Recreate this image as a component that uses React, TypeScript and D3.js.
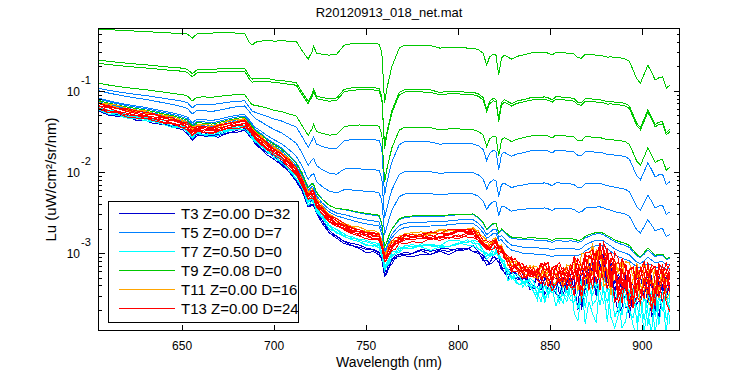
import React from "react";
import * as d3 from "d3";

// ---------- data ----------
// wavelength grid (nm)
const wavelengths = [
  605, 610, 615, 620, 625, 630, 635, 640, 645, 650,
  653, 655.5, 658, 662, 666, 670, 675, 680, 684, 686.5,
  688, 690, 693, 696, 700, 704, 708, 712, 715, 718.5,
  720.5, 721.5, 723, 726, 730, 734, 738, 742, 746, 750,
  754, 757, 758.5, 760, 761, 762.5, 764, 766, 768, 771,
  775, 780, 785, 790, 795, 800, 805, 808, 811, 813.5,
  815.5, 817, 819, 820.5, 822, 823.5, 825, 827, 829, 831,
  833, 835, 837, 839, 841, 843, 845, 847, 849, 851,
  853, 855, 857, 859, 861, 863, 865, 867, 869, 871,
  873, 875, 877, 879, 881, 883, 885, 887, 889, 891,
  893, 895, 897, 899, 901, 903, 905, 907, 909, 911, 913, 915,
];

// top (sky-glint dominated) green trace, uW/cm2/sr/nm
const skyLu = [
  0.575, 0.567, 0.559, 0.552, 0.544, 0.537, 0.529, 0.522, 0.514, 0.514,
  0.5, 0.446, 0.5, 0.514, 0.514, 0.521, 0.521, 0.514, 0.507, 0.398,
  0.365, 0.398, 0.409, 0.421, 0.409, 0.415, 0.409, 0.409, 0.317, 0.246,
  0.3, 0.355, 0.291, 0.283, 0.275, 0.283, 0.365, 0.381, 0.387, 0.387,
  0.387, 0.376, 0.3, 0.07, 0.1, 0.143, 0.2, 0.26, 0.336, 0.365,
  0.365, 0.365, 0.36, 0.336, 0.345, 0.345, 0.336, 0.336, 0.322, 0.291,
  0.207, 0.26, 0.283, 0.275, 0.156, 0.253, 0.275, 0.26, 0.246, 0.26,
  0.27, 0.275, 0.283, 0.291, 0.295, 0.295, 0.295, 0.3, 0.29, 0.275,
  0.3, 0.3, 0.295, 0.291, 0.291, 0.283, 0.255, 0.253, 0.283, 0.283,
  0.28, 0.275, 0.275, 0.268, 0.26, 0.262, 0.258, 0.255, 0.253, 0.246,
  0.23, 0.18, 0.14, 0.125, 0.16, 0.207, 0.17, 0.136, 0.145, 0.148, 0.108, 0.118,
];

// centre of the red (T13) bundle, in units of 1e-4 uW/cm2/sr/nm
const waterLuE4 = [
  648, 604, 570, 539, 516, 495, 468, 442, 418, 389,
  367, 310, 342, 337, 328, 342, 367, 389, 400, 347,
  310, 269, 240, 208, 181, 157, 129, 101, 77.3, 49.1,
  55, 51.9, 41.4, 33, 26.7, 23.5, 21.0, 19.3, 17.9, 16.9,
  16.2, 15.8, 12.6, 8.7, 8.95, 10.9, 12.2, 13.3, 14.3, 15.1,
  15.6, 15.8, 16.0, 16.4, 16.9, 17.5, 17.7, 17.8, 15.8, 13.3,
  11.9, 11.9, 13.0, 13.3, 11.6, 10.7, 9.2, 8.0, 7.35, 6.95,
  6.55, 6.19, 6.02, 5.85, 5.77, 5.69, 5.6, 5.53, 5.45, 5.37,
  5.37, 5.37, 5.37, 5.45, 5.53, 5.6, 5.85, 6.19, 6.74, 7.35,
  8.0, 8.45, 8.6, 8.35, 7.55, 6.74, 6.02, 5.53, 5.22, 5.0,
  4.86, 4.79, 4.73, 4.66, 4.66, 4.66, 4.66, 4.66, 4.66, 4.66, 4.66, 4.66,
];

// level of the other bundles relative to the red one
const t3Ratio = [
  0.893, 0.893, 0.893, 0.893, 0.893, 0.893, 0.893, 0.893, 0.893, 0.893,
  0.844, 0.844, 0.844, 0.844, 0.844, 0.844, 0.844, 0.844, 0.844, 0.844,
  0.844, 0.844, 0.844, 0.844, 0.844, 0.797, 0.797, 0.797, 0.797, 0.753,
  0.753, 0.753, 0.753, 0.753, 0.672, 0.672, 0.672, 0.672, 0.654, 0.654,
  0.654, 0.654, 0.654, 0.654, 0.654, 0.654, 0.654, 0.654, 0.654, 0.635,
  0.635, 0.635, 0.635, 0.635, 0.635, 0.635, 0.635, 0.635, 0.654, 0.654,
  0.654, 0.654, 0.654, 0.654, 0.654, 0.654, 0.654, 0.753, 0.753, 0.753,
  0.753, 0.753, 0.753, 0.753, 0.753, 0.732, 0.732, 0.732, 0.732, 0.732,
  0.732, 0.732, 0.732, 0.732, 0.732, 0.753, 0.753, 0.753, 0.753, 0.753,
  0.753, 0.753, 0.753, 0.753, 0.753, 0.753, 0.753, 0.753, 0.753, 0.753,
  0.753, 0.753, 0.753, 0.753, 0.753, 0.753, 0.753, 0.753, 0.753, 0.753, 0.753, 0.753,
];
const t7Ratio = [
  0.918, 0.918, 0.918, 0.918, 0.918, 0.918, 0.918, 0.918, 0.918, 0.918,
  0.893, 0.893, 0.893, 0.893, 0.893, 0.893, 0.893, 0.893, 0.893, 0.893,
  0.893, 0.893, 0.893, 0.893, 0.893, 0.868, 0.868, 0.868, 0.868, 0.844,
  0.844, 0.844, 0.844, 0.844, 0.797, 0.797, 0.797, 0.797, 0.797, 0.797,
  0.797, 0.797, 0.775, 0.775, 0.775, 0.775, 0.775, 0.775, 0.775, 0.764,
  0.764, 0.764, 0.764, 0.764, 0.764, 0.764, 0.764, 0.764, 0.797, 0.797,
  0.797, 0.797, 0.797, 0.797, 0.797, 0.797, 0.797, 0.712, 0.712, 0.712,
  0.712, 0.712, 0.712, 0.712, 0.712, 0.618, 0.618, 0.618, 0.618, 0.618,
  0.618, 0.618, 0.618, 0.618, 0.618, 0.55, 0.536, 0.5, 0.45, 0.427,
  0.4, 0.37, 0.38, 0.38, 0.415, 0.44, 0.465, 0.478, 0.49, 0.49,
  0.49, 0.49, 0.49, 0.49, 0.49, 0.49, 0.49, 0.49, 0.49, 0.49, 0.49, 0.49,
];
const t11Ratio = [
  1.089, 1.089, 1.089, 1.089, 1.089, 1.089, 1.089, 1.089, 1.089, 1.089,
  1.089, 1.089, 1.089, 1.089, 1.089, 1.089, 1.089, 1.089, 1.089, 1.089,
  1.089, 1.089, 1.089, 1.089, 1.089, 1.089, 1.089, 1.089, 1.089, 1.089,
  1.089, 1.089, 1.089, 1.089, 1.089, 1.089, 1.089, 1.089, 1.089, 1.089,
  1.089, 1.089, 1.089, 1.089, 1.089, 1.089, 1.089, 1.089, 1.089, 1.089,
  1.089, 1.089, 1.089, 1.089, 1.089, 1.089, 1.089, 1.089, 1.089, 1.089,
  1.089, 1.089, 1.089, 1.089, 1.089, 1.089, 1.089, 1.03, 1.03, 1.03,
  1.03, 1.03, 1.03, 1.03, 1.03, 1.03, 1.03, 1.03, 1.03, 1.03,
  1.03, 1.03, 1.03, 1.03, 1.03, 1.03, 1.03, 1.03, 1.03, 1.03,
  1.03, 1.03, 1.03, 1.03, 1.03, 1.03, 1.03, 1.03, 1.03, 1.03,
  1.03, 1.03, 1.03, 1.03, 1.03, 1.03, 1.03, 1.03, 1.03, 1.03, 1.03, 1.03,
];

// relative scatter of the bundle traces (grows towards the NIR)
const scatter = [
  0.03, 0.03, 0.03, 0.03, 0.03, 0.03, 0.03, 0.03, 0.03, 0.03,
  0.03, 0.03, 0.03, 0.03, 0.03, 0.03, 0.03, 0.03, 0.03, 0.03,
  0.03, 0.03, 0.03, 0.03, 0.03, 0.04, 0.04, 0.04, 0.04, 0.04,
  0.04, 0.04, 0.04, 0.04, 0.04, 0.04, 0.04, 0.04, 0.04, 0.04,
  0.04, 0.04, 0.07, 0.07, 0.07, 0.07, 0.07, 0.07, 0.07, 0.07,
  0.07, 0.07, 0.07, 0.07, 0.07, 0.07, 0.07, 0.07, 0.09, 0.09,
  0.09, 0.09, 0.09, 0.09, 0.09, 0.09, 0.09, 0.16, 0.16, 0.16,
  0.16, 0.16, 0.16, 0.16, 0.16, 0.3, 0.3, 0.3, 0.3, 0.3,
  0.3, 0.3, 0.3, 0.3, 0.3, 0.55, 0.55, 0.55, 0.55, 0.55,
  0.55, 0.55, 0.55, 0.55, 0.55, 0.55, 0.55, 0.55, 0.55, 0.55,
  0.55, 0.55, 0.55, 0.55, 0.55, 0.55, 0.55, 0.55, 0.55, 0.55, 0.55, 0.55,
];

// per-sample scatter pattern of each bundle trace (digit 0..9 -> -1..+1)
const scatterRows = [
  "7205918364 4829103756 1938475026 8374610295 5019283746 2947501836 6182930475 3840192756 9152836047 4069182735 2758390164 8301927465",
  "2846193057 9173820465 5302948176 1749283065 8265019374 4918376025 0374619258 6592038147 3817460925 7029384651 1486729305 5930172846",
  "6039271845 3157908264 8420167359 2693851470 7081432965 1548069273 9326715084 4780293516 2195846037 5864372019 0423758196 3710926485",
  "1583046927 6402719358 3975180642 9217364058 4650839271 0731962584 5298407316 8046153729 7632910548 2389576401 6915048273 9104267835",
  "9461725083 0286394157 7514082639 5032871946 3197560428 8473019265 2610847593 1359728064 6084135927 4726081359 8542730916 0837651492",
  "4370852619 8051467392 2639715048 6785903241 0926348175 3862157904 7408261935 9573018246 5241769803 1095384627 3269817054 7618042935",
  "8152637409 5394028716 0867154293 3419276580 6241705839 9705483126 1584927063 2736041958 0418352679 6953710284 4107285369 2546389701",
  "0694381572 2718539640 4592806137 7068142395 9314587026 5629430718 8036174259 4105862937 3867294015 9281706453 1480953726 5372816049",
  "3527064918 7460912385 6183427509 0852791634 2475169083 4038716592 6917340825 7549028361 1642753980 8360147592 7093268415 4685092371",
  "5983147206 1635708492 9240683517 4571920368 8130697254 7264851930 3495207168 0682934715 5309871624 2714305869 9528610437 1209473568",
  "2419658370 8902374165 4758106923 1836497052 6503218947 0183965274 9752036481 5326148790 7941582036 4073619825 0256938714 6831754209",
  "7068429153 3249186570 1576039482 8912653704 5748091326 2695047813 4021385769 6830714952 8157296340 3582047196 6742193085 9460815327",
  "1795302864 6528041793 7031895426 2364708159 0459263718 8317592640 5169470382 9285163047 4602938571 1649725308 3015864297 7253460918",
  "4812057396 0375916248 6158243907 2904736185 8637102594 1270598463 5049381726 3761249508 9826053174 0593716842 7138460259 2469185073",
  "9027364815 5681902473 3420875169 7149632508 0286514937 6813907452 2957148306 4305269781 1674023598 8531796024 5092431687 3718564209",
  "3564918270 7290435816 0813672945 5462018397 2139804756 9547261038 6381059427 1028473695 4790316582 8265940173 0346728951 6853017264",
  "6190275483 2456389107 9735140628 0318796452 4864523071 3082617945 7624098513 5197832640 2453168097 6709285134 8921570346 1075348926",
];

// bundle trace levels per series
const t3Levels = [1.04, 1.0, 0.96];
const t7Levels = [1.04, 1.01, 0.98, 0.95];
const t11Levels = [1.04, 1.01, 0.98];
const t13Levels = [1.09, 1.06, 1.03, 1.0, 0.97, 0.94, 0.91];

// upper traces: fraction of the sky trace + factor of the water trace
const t5SkyFraction = [0.06, 0.022, 0.0099, 0.0026, 0.0018, 0.0012];
const t5WaterFactor = [1.12, 1.35, 1.156, 1.19, 1.11, 1.08];
const t9SkyFraction = [1, 0.279, 0.261, 0.093, 0.003];
const t9WaterFactor = [0, 1.21, 1.04, 1.08, 1.14];

const seriesNames = ["T3", "T5", "T7", "T9", "T11", "T13"];
const legendLabels = [
  "T3 Z=0.00 D=32",
  "T5 Z=0.00 D=7",
  "T7 Z=0.50 D=0",
  "T9 Z=0.08 D=0",
  "T11 Z=0.00 D=16",
  "T13 Z=0.00 D=24",
];
const seriesColors = ["#0000D0", "#0080FF", "#00FFFF", "#00C800", "#FFA500", "#FF0000"];

const xTickValues = [650, 700, 750, 800, 850, 900];
const yTickValues = [1e-3, 1e-2, 1e-1];
const yTickExponents = ["-3", "-2", "-1"];

const titleText = "R20120913_018_net.mat";
const xLabelText = "Wavelength (nm)";
const yLabelText = "Lu (uW/cm²/sr/nm)";

// ---------- build traces ----------
type Trace = { color: string; values: number[] };

const rows = scatterRows.map((r) => r.replace(/ /g, ""));
let rowIdx = 0;
function bundle(ratio: number[], level: number): number[] {
  const row = rows[rowIdx++ % rows.length];
  return waterLuE4.map((w, i) => {
    const j = (Number(row[i]) - 4.5) / 4.5;
    return w * 1e-4 * ratio[i] * level * (1 + scatter[i] * j);
  });
}
function upper(s: number, m: number): number[] {
  return skyLu.map((sv, i) => s * sv + m * waterLuE4[i] * 1e-4);
}

const redRatio = waterLuE4.map(() => 1);
const traces: Trace[] = [];
t3Levels.forEach((l) => traces.push({ color: seriesColors[0], values: bundle(t3Ratio, l) }));
t5SkyFraction.forEach((s, k) => traces.push({ color: seriesColors[1], values: upper(s, t5WaterFactor[k]) }));
t7Levels.forEach((l) => traces.push({ color: seriesColors[2], values: bundle(t7Ratio, l) }));
t9SkyFraction.forEach((s, k) => traces.push({ color: seriesColors[3], values: upper(s, t9WaterFactor[k]) }));
t11Levels.forEach((l) => traces.push({ color: seriesColors[4], values: bundle(t11Ratio, l) }));
t13Levels.forEach((l) => traces.push({ color: seriesColors[5], values: bundle(redRatio, l) }));

const FONT = "'Liberation Sans', Arial, Helvetica, sans-serif";

export default function App() {
  const left = 98.5, right = 679.5, top = 28.5, bottom = 330.5;
  const x = d3.scaleLinear().domain([604.6, 920.2]).range([left, right]);
  const y = d3.scaleLog().domain([1.114e-4, 0.586]).range([bottom, top]);
  const line = d3
    .line<number>()
    .x((_, i) => x(wavelengths[i]))
    .y((v) => y(v));

  const minor = y.ticks().filter((t) => {
    const e = Math.log10(t);
    return Math.abs(e - Math.round(e)) > 1e-6;
  });

  const legX = 108.5, legY = 201.5, legW = 190, legH = 121;

  return (
    <svg
      width={750}
      height={375}
      style={{ position: "absolute", left: 0, top: 0, background: "#fff" }}
      fontFamily={FONT}
    >
      <rect x={0} y={0} width={750} height={375} fill="#fff" />
      <defs>
        <clipPath id="plotClip">
          <rect x={left} y={top} width={right - left} height={bottom - top} />
        </clipPath>
      </defs>
      <g clipPath="url(#plotClip)">
        {traces.map((t, k) => (
          <path
            key={k}
            d={line(t.values) || ""}
            fill="none"
            stroke={t.color}
            strokeWidth={1}
            shapeRendering="crispEdges"
          />
        ))}
      </g>
      {/* frame */}
      <rect x={left} y={top} width={right - left} height={bottom - top} fill="none" stroke="#000" strokeWidth={1} shapeRendering="crispEdges" />
      {/* x ticks */}
      {xTickValues.map((v) => (
        <g key={"x" + v}>
          <line x1={Math.round(x(v)) + 0.5} x2={Math.round(x(v)) + 0.5} y1={bottom} y2={bottom - 6} stroke="#000" shapeRendering="crispEdges" />
          <line x1={Math.round(x(v)) + 0.5} x2={Math.round(x(v)) + 0.5} y1={top} y2={top + 6} stroke="#000" shapeRendering="crispEdges" />
          <text x={x(v)} y={349.5} textAnchor="middle" fontSize={12}>
            {v}
          </text>
        </g>
      ))}
      {/* y ticks */}
      {yTickValues.map((v, i) => (
        <g key={"y" + v}>
          <line x1={left} x2={left + 6} y1={Math.round(y(v)) + 0.5} y2={Math.round(y(v)) + 0.5} stroke="#000" shapeRendering="crispEdges" />
          <line x1={right} x2={right - 6} y1={Math.round(y(v)) + 0.5} y2={Math.round(y(v)) + 0.5} stroke="#000" shapeRendering="crispEdges" />
          <text x={80} y={y(v) + 5} textAnchor="end" fontSize={12}>
            10
          </text>
          <text x={81} y={y(v) - 7} textAnchor="start" fontSize={11}>
            {yTickExponents[i]}
          </text>
        </g>
      ))}
      {minor.map((v) => (
        <g key={"m" + v}>
          <line x1={left} x2={left + 3} y1={Math.round(y(v)) + 0.5} y2={Math.round(y(v)) + 0.5} stroke="#000" shapeRendering="crispEdges" />
          <line x1={right} x2={right - 3} y1={Math.round(y(v)) + 0.5} y2={Math.round(y(v)) + 0.5} stroke="#000" shapeRendering="crispEdges" />
        </g>
      ))}
      {/* labels */}
      <text x={(left + right) / 2} y={17} textAnchor="middle" fontSize={13}>
        {titleText}
      </text>
      <text x={(left + right) / 2} y={367} textAnchor="middle" fontSize={14}>
        {xLabelText}
      </text>
      <text
        transform={`translate(56, ${(top + bottom) / 2}) rotate(-90)`}
        textAnchor="middle"
        fontSize={15}
      >
        {yLabelText}
      </text>
      {/* legend */}
      <rect x={legX} y={legY} width={legW} height={legH} fill="#fff" stroke="#000" strokeWidth={1} shapeRendering="crispEdges" />
      {seriesNames.map((s, i) => {
        const ry = 213.5 + 19 * i;
        return (
          <g key={s}>
            <line x1={119} x2={175} y1={ry} y2={ry} stroke={seriesColors[i]} strokeWidth={1} shapeRendering="crispEdges" />
            <text x={181} y={ry + 5.5} fontSize={15}>
              {legendLabels[i]}
            </text>
          </g>
        );
      })}
    </svg>
  );
}
